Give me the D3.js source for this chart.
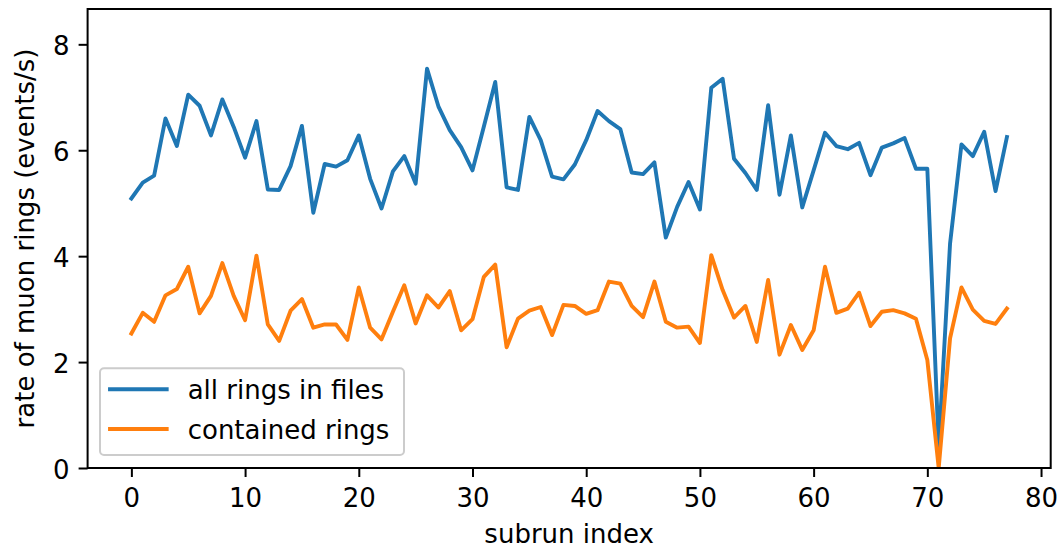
<!DOCTYPE html>
<html>
<head>
<meta charset="utf-8">
<script src="https://cdn.jsdelivr.net/npm/d3@7"></script>
<style>
    body { margin: 0; background: #fff; }
    svg { display: block; font-family: "DejaVu Sans", sans-serif; }
</style>
</head>
<body>
<svg id="chart"></svg>
<script>
// values
const subrunIndex = d3.range(78)

const allRings = [
    5.09, 5.39, 5.52, 6.60, 6.08, 7.05, 6.84, 6.28, 6.96, 6.44,
    5.86, 6.55, 5.26, 5.25, 5.70, 6.46, 4.82, 5.74, 5.69, 5.81,
    6.28, 5.46, 4.90, 5.60, 5.89, 5.37, 7.54, 6.83, 6.38, 6.06,
    5.62, 6.45, 7.29, 5.30, 5.25, 6.63, 6.19, 5.50, 5.45, 5.73,
    6.19, 6.74, 6.55, 6.40, 5.58, 5.55, 5.77, 4.35, 4.93, 5.40,
    4.88, 7.18, 7.35, 5.84, 5.57, 5.25, 6.85, 5.16, 6.28, 4.92,
    5.62, 6.33, 6.08, 6.02, 6.14, 5.53, 6.05, 6.13, 6.23, 5.65,
    5.65, 0.40, 4.24, 6.11, 5.89, 6.35, 5.23, 6.25
]

const containedRings = [
    2.54, 2.93, 2.76, 3.26, 3.38, 3.80, 2.92, 3.25, 3.87, 3.25,
    2.79, 4.01, 2.71, 2.40, 2.97, 3.19, 2.65, 2.71, 2.71, 2.42,
    3.41, 2.65, 2.43, 2.95, 3.45, 2.73, 3.26, 3.03, 3.34, 2.60,
    2.81, 3.61, 3.84, 2.28, 2.82, 2.97, 3.04, 2.51, 3.08, 3.06,
    2.91, 2.98, 3.52, 3.48, 3.06, 2.85, 3.52, 2.76, 2.65, 2.67,
    2.36, 4.02, 3.36, 2.84, 3.06, 2.38, 3.55, 2.14, 2.70, 2.23,
    2.60, 3.80, 2.93, 3.01, 3.31, 2.68, 2.95, 2.98, 2.92, 2.82,
    2.04, 0.00, 2.45, 3.41, 2.99, 2.78, 2.72, 3.01
]

const seriesNames = ["all rings in files", "contained rings"]
const seriesColors = ["#1f77b4", "#ff7f0e"]
const xTicks = [0, 10, 20, 30, 40, 50, 60, 70, 80]
const yTicks = [0, 2, 4, 6, 8]

const width = 1060
const height = 548
const margins = {left: 87.6, right: 9.3, top: 9, bottom: 80}
const fontSize = 26

const svg = d3.select("#chart").attr("width", width).attr("height", height)

const scaleX = d3.scaleLinear().domain([-3.85, 80.85]).range([margins.left, width - margins.right])
const scaleY = d3.scaleLinear().domain([0, 8.667]).range([height - margins.bottom, margins.top])

const plotLeft = scaleX.range()[0], plotRight = scaleX.range()[1]
const plotTop = scaleY.range()[1], plotBottom = scaleY.range()[0]

svg.append("defs").append("clipPath").attr("id", "plot-clip")
    .append("rect")
    .attr("x", plotLeft).attr("y", plotTop)
    .attr("width", plotRight - plotLeft).attr("height", plotBottom - plotTop)

// lines
const seriesData = [allRings, containedRings].map((vals, k) => ({
    name: seriesNames[k],
    color: seriesColors[k],
    points: subrunIndex.map(i => ({x: i, y: vals[i]}))
}))

const lineGenerator = d3.line().x(d => scaleX(d.x)).y(d => scaleY(d.y))

svg.append("g").attr("clip-path", "url(#plot-clip)")
    .selectAll("path")
    .data(seriesData)
    .join("path")
    .attr("d", d => lineGenerator(d.points))
    .attr("fill", "none")
    .attr("stroke", d => d.color)
    .attr("stroke-width", 3.9)
    .attr("stroke-linejoin", "round")
    .attr("stroke-linecap", "square")

// axes
const xAxis = d3.axisBottom(scaleX).tickValues(xTicks).tickSize(9).tickPadding(9).tickSizeOuter(0)
const yAxis = d3.axisLeft(scaleY).tickValues(yTicks).tickSize(9).tickPadding(9).tickSizeOuter(0)

const gx = svg.append("g").attr("transform", `translate(0, ${plotBottom})`).call(xAxis)
const gy = svg.append("g").attr("transform", `translate(${plotLeft}, 0)`).call(yAxis)

for (const g of [gx, gy]) {
    g.select(".domain").remove()
    g.selectAll(".tick line").attr("stroke", "#000").attr("stroke-width", 2)
    g.selectAll(".tick text").attr("fill", "#000").attr("font-size", fontSize).attr("font-family", "DejaVu Sans")
}
gx.selectAll(".tick text").attr("dy", null).attr("y", 38.5)
gy.selectAll(".tick text").attr("dy", null).attr("y", 10.5)

// frame
svg.append("rect")
    .attr("x", plotLeft).attr("y", plotTop)
    .attr("width", plotRight - plotLeft).attr("height", plotBottom - plotTop)
    .attr("fill", "none").attr("stroke", "#000").attr("stroke-width", 2)

// axis labels
svg.append("text")
    .text("subrun index")
    .attr("x", (plotLeft + plotRight) / 2).attr("y", 543)
    .attr("text-anchor", "middle").attr("font-size", fontSize)

svg.append("text")
    .text("rate of muon rings (events/s)")
    .attr("transform", `translate(34, ${(plotTop + plotBottom) / 2}) rotate(-90)`)
    .attr("text-anchor", "middle").attr("font-size", fontSize)

// legend
const legend = svg.append("g").attr("transform", "translate(100, 368.3)")
legend.append("rect")
    .attr("width", 304).attr("height", 86.7).attr("rx", 4)
    .attr("fill", "#fff").attr("fill-opacity", 0.8)
    .attr("stroke", "#cccccc").attr("stroke-width", 2)

const legendRows = legend.selectAll("g.row")
    .data(seriesData)
    .join("g")
    .attr("class", "row")
    .attr("transform", (d, i) => `translate(0, ${21 + i * 39.7})`)

legendRows.append("line")
    .attr("x1", 10).attr("x2", 66.7)
    .attr("stroke", d => d.color).attr("stroke-width", 3.9)
    .attr("stroke-linecap", "square")

legendRows.append("text")
    .text(d => d.name)
    .attr("x", 87.7).attr("y", 9.5)
    .attr("font-size", fontSize)
</script>
</body>
</html>
